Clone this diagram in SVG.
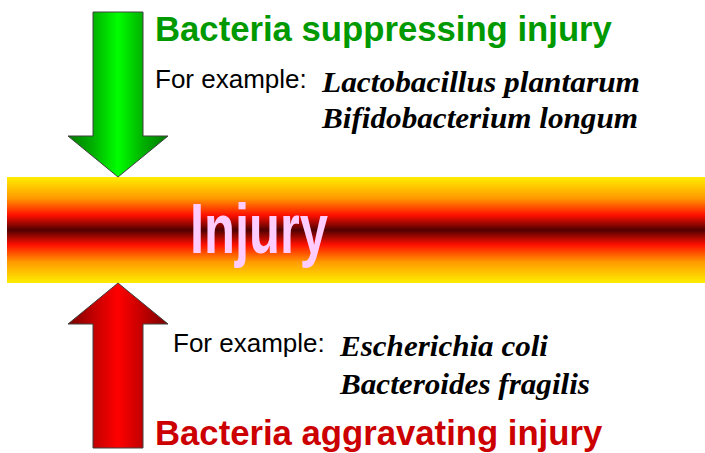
<svg xmlns="http://www.w3.org/2000/svg" width="705" height="453" viewBox="0 0 705 453">
<defs>
<linearGradient id="band" x1="0" y1="0" x2="0" y2="1">
<stop offset="0" stop-color="#FFEE00"/>
<stop offset="0.2" stop-color="#FF9900"/>
<stop offset="0.36" stop-color="#FF1000"/>
<stop offset="0.5" stop-color="#500000"/>
<stop offset="0.64" stop-color="#FF1000"/>
<stop offset="0.8" stop-color="#FF9900"/>
<stop offset="1" stop-color="#FFEE00"/>
</linearGradient>
<linearGradient id="green" gradientUnits="userSpaceOnUse" x1="68" y1="0" x2="168" y2="0">
<stop offset="0" stop-color="#007A00"/>
<stop offset="0.25" stop-color="#00B000"/>
<stop offset="0.5" stop-color="#00FF00"/>
<stop offset="0.75" stop-color="#00B000"/>
<stop offset="1" stop-color="#007A00"/>
</linearGradient>
<linearGradient id="red" gradientUnits="userSpaceOnUse" x1="68" y1="0" x2="168" y2="0">
<stop offset="0" stop-color="#7A0000"/>
<stop offset="0.25" stop-color="#C00000"/>
<stop offset="0.5" stop-color="#FF0000"/>
<stop offset="0.75" stop-color="#C00000"/>
<stop offset="1" stop-color="#7A0000"/>
</linearGradient>
</defs>
<style>
.title{font-family:"Liberation Sans",Arial,sans-serif;font-weight:bold;font-size:34.7px}
.ex{font-family:"Liberation Sans",Arial,sans-serif;font-size:26px;fill:#000}
.sp{font-family:"Liberation Serif","Times New Roman",serif;font-weight:bold;font-style:italic;font-size:30px;fill:#000}
.arrow{stroke:#404040;stroke-width:1}
</style>
<g id="injury-band">
<rect x="7" y="177" width="698" height="106" fill="url(#band)"/>
<text x="259" y="253" text-anchor="middle" font-family="'Liberation Sans',Arial,sans-serif" font-weight="bold" font-size="71" fill="#FFCCFF" textLength="138" lengthAdjust="spacingAndGlyphs">Injury</text>
</g>
<g id="connectors">
<path class="arrow" d="M93 12 H143 V136 H168 L118 177 L68 136 H93 Z" fill="url(#green)"/>
<path class="arrow" d="M93 448 H143 V324 H168 L118 283 L68 324 H93 Z" fill="url(#red)"/>
</g>
<g id="suppressing">
<text class="title" x="155" y="41" fill="#009900">Bacteria suppressing injury</text>
<text class="ex" x="155" y="88">For example:</text>
<text class="sp" x="322" y="92" textLength="318" lengthAdjust="spacingAndGlyphs">Lactobacillus plantarum</text>
<text class="sp" x="322" y="128" textLength="316" lengthAdjust="spacingAndGlyphs">Bifidobacterium longum</text>
</g>
<g id="aggravating">
<text class="ex" x="173" y="352">For example:</text>
<text class="sp" x="340" y="356" textLength="208" lengthAdjust="spacingAndGlyphs">Escherichia coli</text>
<text class="sp" x="340" y="394" textLength="250" lengthAdjust="spacingAndGlyphs">Bacteroides fragilis</text>
<text class="title" x="155" y="445" fill="#CC0000">Bacteria aggravating injury</text>
</g>
</svg>
